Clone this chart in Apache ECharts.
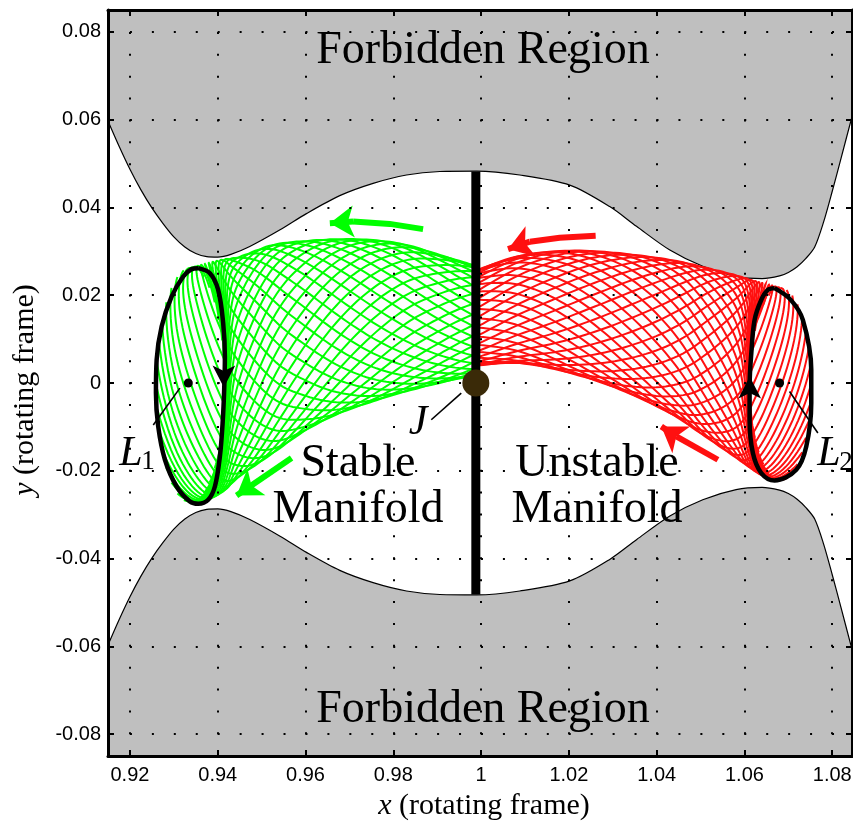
<!DOCTYPE html>
<html><head><meta charset="utf-8">
<script src="https://cdn.jsdelivr.net/npm/echarts@6/dist/echarts.min.js"></script>
<style>html,body{margin:0;padding:0;background:#fff}#c{width:853px;height:828px}</style>
</head><body><div id="c"></div>
<script>
// ---------------- data ----------------
const xTickValues = [0.92, 0.94, 0.96, 0.98, 1.00, 1.02, 1.04, 1.06, 1.08];
const xTickLabels = ['0.92', '0.94', '0.96', '0.98', '1', '1.02', '1.04', '1.06', '1.08'];
const yTickValues = [-0.08, -0.06, -0.04, -0.02, 0, 0.02, 0.04, 0.06, 0.08];
const yTickLabels = ['-0.08', '-0.06', '-0.04', '-0.02', '0', '0.02', '0.04', '0.06', '0.08'];

// boundary of the forbidden (gray) regions
const forbiddenX = [0.915, 0.9175, 0.9200, 0.9225, 0.9250, 0.9275, 0.9300, 0.9325, 0.9350, 0.9375, 0.9400, 0.9430, 0.9473, 0.9542, 0.9602, 0.9678, 0.9754, 0.9830, 0.9906, 0.9990, 1.0088, 1.0202, 1.0293, 1.0354, 1.0430, 1.0505, 1.0581, 1.0640, 1.0680, 1.0700, 1.0720, 1.0740, 1.0760, 1.0780, 1.0800, 1.0820, 1.0845];
const forbiddenUpperY = [0.0597, 0.0540, 0.0487, 0.0440, 0.0399, 0.0364, 0.0333, 0.0310, 0.0295, 0.0288, 0.0287, 0.0293, 0.0311, 0.0349, 0.0386, 0.0427, 0.0455, 0.0474, 0.0482, 0.0483, 0.0474, 0.0451, 0.0402, 0.0357, 0.0303, 0.0266, 0.0243, 0.0238, 0.0244, 0.0252, 0.0265, 0.0284, 0.0310, 0.0366, 0.0437, 0.0512, 0.0607];
const forbiddenLowerY = [-0.0597, -0.0540, -0.0487, -0.0440, -0.0399, -0.0364, -0.0333, -0.0310, -0.0295, -0.0288, -0.0287, -0.0293, -0.0311, -0.0349, -0.0386, -0.0427, -0.0455, -0.0474, -0.0482, -0.0483, -0.0474, -0.0451, -0.0402, -0.0357, -0.0303, -0.0266, -0.0243, -0.0238, -0.0244, -0.0252, -0.0265, -0.0284, -0.0310, -0.0366, -0.0437, -0.0512, -0.0607];

// Lyapunov orbits
const L1Orbit = [[0.93555,0.02617],[0.93821,0.02503],[0.94010,0.02123],[0.94124,0.01364],[0.94163,0.00604],[0.94147,-0.00155],[0.94111,-0.00913],[0.94049,-0.01674],[0.93935,-0.02358],[0.93783,-0.02661],[0.93555,-0.02752],[0.93366,-0.02699],[0.93063,-0.02358],[0.92797,-0.01749],[0.92644,-0.00991],[0.92592,-0.00230],[0.92608,0.00528],[0.92722,0.01287],[0.92949,0.01970],[0.93214,0.02426],[0.93405,0.02595],[0.93555,0.02617]];
const L2Orbit = [[1.06686,0.02162],[1.07050,0.01900],[1.07330,0.01440],[1.07522,0.00301],[1.07522,-0.00458],[1.07408,-0.01446],[1.07180,-0.01977],[1.06686,-0.02221],[1.06383,-0.02052],[1.06192,-0.01597],[1.06117,-0.00838],[1.06117,-0.00080],[1.06156,0.00681],[1.06231,0.01440],[1.06383,0.01895],[1.06533,0.02123],[1.06686,0.02162]];
const L1Point = [0.9333, 0.0];
const L2Point = [1.0680, 0.0];
const JPoint = [0.9988, 0.0];
const sectionLine = [[0.9988, 0.0482], [0.9988, -0.0482]];

// manifold tubes: stations from the orbit to the section x = 1 - mu
const greenStationX   = [0.9338, 0.9360, 0.9385, 0.9415, 0.9450, 0.9526, 0.9602, 0.9678, 0.9754, 0.9830, 0.9906, 0.9985];
const greenTopY       = [0.0262, 0.0268, 0.0275, 0.0282, 0.0288, 0.0315, 0.0324, 0.0328, 0.0326, 0.0315, 0.0292, 0.0268];
const greenBottomY    = [-0.0272, -0.0268, -0.0262, -0.0245, -0.0213, -0.0160, -0.0107, -0.0069, -0.0042, -0.0019, 0.0000, 0.0018];
const greenHalfWidth  = [0.0078, 0.0060, 0.0038, 0.0015, 0.0004, 0, 0, 0, 0, 0, 0, 0];
const greenTwist      = [0.0, 0.7, 1.3, 1.9, 2.3, 2.85, 3.25, 3.62, 3.95, 4.25, 4.53, 4.83];

const redStationX     = [1.0682, 1.0662, 1.0640, 1.0615, 1.0580, 1.0500, 1.0430, 1.0316, 1.0202, 1.0088, 0.9992];
const redTopY         = [0.0216, 0.0222, 0.0228, 0.0235, 0.0246, 0.0266, 0.0281, 0.0296, 0.0302, 0.0290, 0.0258];
const redBottomY      = [-0.0222, -0.0218, -0.0210, -0.0195, -0.0170, -0.0115, -0.0069, -0.0015, 0.0023, 0.0045, 0.0040];
const redHalfWidth    = [0.0070, 0.0052, 0.0032, 0.0012, 0.0002, 0, 0, 0, 0, 0, 0];
const redTwist        = [0.0, 0.6, 1.2, 1.8, 2.3, 2.85, 3.25, 3.75, 4.2, 4.6, 4.9];
const strandCount = 32;

// flow-direction arrows (shaft points, last point = tip)
const greenArrows = [
  [[0.98678,0.03506],[0.97920,0.03626],[0.97084,0.03679],[0.96554,0.03642]],
  [[0.95682,-0.01711],[0.94732,-0.02358],[0.94429,-0.02563]]
];
const redArrows = [
  [[1.02610,0.03353],[1.01790,0.03310],[1.01110,0.03220],[1.00614,0.03050]],
  [[1.05395,-0.01749],[1.04447,-0.01219],[1.04106,-0.00991]]
];
const orbitArrowDown = [[0.9414, -0.0010]];
const orbitArrowUp = [[1.0612, 0.0015]];
const leaderLines = [
  [[0.93138,-0.00117],[0.92531,-0.00957]],
  [[1.07027,-0.00193],[1.07672,-0.01141]],
  [[0.99548,-0.00230],[0.98865,-0.00838]]
];

// ---------------- build tube strands ----------------
function cr(arr, t) {
  const n = arr.length;
  const i = Math.min(Math.floor(t), n - 2), f = t - i;
  const p0 = arr[Math.max(i - 1, 0)], p1 = arr[i], p2 = arr[i + 1], p3 = arr[Math.min(i + 2, n - 1)];
  return 0.5 * ((2 * p1) + (-p0 + p2) * f + (2 * p0 - 5 * p1 + 4 * p2 - p3) * f * f + (-p0 + 3 * p1 - 3 * p2 + p3) * f * f * f);
}
function buildTube(sx, top, bot, hw, tw, mirror) {
  const out = [];
  const n = sx.length, sub = 10;
  for (let k = 0; k < strandCount; k++) {
    const th = 2 * Math.PI * k / strandCount;
    const coords = [];
    for (let j = 0; j <= (n - 1) * sub; j++) {
      const t = j / sub;
      const cx = cr(sx, t), tp = cr(top, t), bt = cr(bot, t), ax = Math.max(cr(hw, t), 0), ph = cr(tw, t);
      const cy = (tp + bt) / 2, ay = (tp - bt) / 2;
      coords.push([cx + (mirror ? -1 : 1) * ax * Math.cos(th + ph), cy + ay * Math.sin(th + ph)]);
    }
    out.push({ coords });
  }
  return out;
}
const greenTube = buildTube(greenStationX, greenTopY, greenBottomY, greenHalfWidth, greenTwist, false);
const redTube = buildTube(redStationX, redTopY, redBottomY, redHalfWidth, redTwist, true);

const zip = (xs, ys) => xs.map((x, i) => [x, ys[i]]);
function tickFmt(vals, labels) {
  return v => { for (let i = 0; i < vals.length; i++) if (Math.abs(v - vals[i]) < 1e-9) return labels[i]; return ''; };
}
const shafts = arr => arr.map(c => ({ coords: c.slice(0, c.length - 1) }));
const heads = arr => arr.map(c => ({ coords: [c[c.length - 2], c[c.length - 1]] }));

const chart = echarts.init(document.getElementById('c'), null, { renderer: 'canvas' });
const axisCommon = {
  type: 'value', z: 10,
  axisLine: { show: true, onZero: false, lineStyle: { color: '#000', width: 3 } },
  axisTick: { show: true, inside: true, length: 6, lineStyle: { color: '#000', width: 2 } },
  splitNumber: 8
};
const serif = '"Liberation Serif", "Times New Roman", serif';
const sans = '"Liberation Sans", Arial, Helvetica, sans-serif';
const textEl = (x, y, text, size, italic) => ({ type: 'text', x, y, z: 100, silent: true,
  style: { text, fontFamily: serif, fontSize: size, fontStyle: italic ? 'italic' : 'normal', fill: '#000', align: 'center', verticalAlign: 'middle' } });

chart.setOption({
  animation: false,
  backgroundColor: '#fff',
  grid: { left: 108, right: 1, top: 10, bottom: 72, containLabel: false, outerBoundsMode: 'none' },
  xAxis: [
    Object.assign({}, axisCommon, {
      position: 'bottom', min: 0.915, max: 1.0845,
      axisLabel: { show: true, margin: 9, color: '#000', fontSize: 20, fontFamily: sans, formatter: tickFmt(xTickValues, xTickLabels) },
      splitLine: { show: true, lineStyle: { color: '#000', width: 2, type: [2, 19.89] } },
      name: '{i|x} (rotating frame)', nameLocation: 'middle', nameGap: 35, nameMoveOverlap: false,
      nameTextStyle: { color: '#000', fontFamily: serif, fontSize: 30, padding: [0, 0, 0, 8], rich: { i: { fontStyle: 'italic', fontFamily: serif, fontSize: 30, color: '#000' } } }
    }),
    Object.assign({}, axisCommon, {
      position: 'top', min: 0.915, max: 1.0845,
      axisLabel: { show: false }, splitLine: { show: false }
    })
  ],
  yAxis: [
    Object.assign({}, axisCommon, {
      position: 'left', min: -0.085, max: 0.085,
      axisLabel: { show: true, margin: 7, color: '#000', fontSize: 20, fontFamily: sans, formatter: tickFmt(yTickValues, yTickLabels) },
      splitLine: { show: true, lineStyle: { color: '#000', width: 2, type: [2, 19.94] } },
      name: '{i|y} (rotating frame)', nameLocation: 'middle', nameGap: 68, nameRotate: 90, nameMoveOverlap: false,
      nameTextStyle: { color: '#000', fontFamily: serif, fontSize: 30, padding: [0, 14, 0, 0], rich: { i: { fontStyle: 'italic', fontFamily: serif, fontSize: 30, color: '#000' } } }
    }),
    Object.assign({}, axisCommon, {
      position: 'right', min: -0.085, max: 0.085,
      axisLabel: { show: false }, splitLine: { show: false }
    })
  ],
  series: [
    { type: 'line', data: zip(forbiddenX, forbiddenUpperY), symbol: 'none', smooth: 0.3, z: 1,
      lineStyle: { color: '#000', width: 1.2 }, areaStyle: { color: '#bfbfbf', opacity: 1, origin: 'end' } },
    { type: 'line', data: zip(forbiddenX, forbiddenLowerY), symbol: 'none', smooth: 0.3, z: 1,
      lineStyle: { color: '#000', width: 1.2 }, areaStyle: { color: '#bfbfbf', opacity: 1, origin: 'start' } },
    { type: 'lines', coordinateSystem: 'cartesian2d', polyline: true, data: greenTube, z: 3, silent: true,
      lineStyle: { color: '#00ff00', width: 2, opacity: 1 } },
    { type: 'lines', coordinateSystem: 'cartesian2d', polyline: true, data: redTube, z: 3, silent: true,
      lineStyle: { color: '#ff1010', width: 2, opacity: 1 } },
    { type: 'line', data: sectionLine, symbol: 'none', z: 5, lineStyle: { color: '#000', width: 9 } },
    { type: 'line', data: L1Orbit, symbol: 'none', smooth: 0.35, z: 6, lineStyle: { color: '#000', width: 4.5 } },
    { type: 'line', data: L2Orbit, symbol: 'none', smooth: 0.35, z: 6, lineStyle: { color: '#000', width: 4.5 } },
    { type: 'lines', coordinateSystem: 'cartesian2d', polyline: true, z: 6, data: shafts(greenArrows),
      lineStyle: { color: '#00ff00', width: 6, opacity: 1 } },
    { type: 'lines', coordinateSystem: 'cartesian2d', polyline: false, z: 6, data: heads(greenArrows),
      symbol: ['none', 'arrow'], symbolSize: 24, lineStyle: { color: '#00ff00', width: 6, opacity: 1 } },
    { type: 'lines', coordinateSystem: 'cartesian2d', polyline: true, z: 6, data: shafts(redArrows),
      lineStyle: { color: '#ff1010', width: 6, opacity: 1 } },
    { type: 'lines', coordinateSystem: 'cartesian2d', polyline: false, z: 6, data: heads(redArrows),
      symbol: ['none', 'arrow'], symbolSize: 24, lineStyle: { color: '#ff1010', width: 6, opacity: 1 } },
    { type: 'scatter', data: orbitArrowDown, symbol: 'arrow', symbolSize: [17, 22], symbolRotate: 180, z: 7, itemStyle: { color: '#000', opacity: 1 } },
    { type: 'scatter', data: orbitArrowUp, symbol: 'arrow', symbolSize: [17, 22], symbolRotate: 0, z: 7, itemStyle: { color: '#000', opacity: 1 } },
    { type: 'lines', coordinateSystem: 'cartesian2d', polyline: false, z: 7,
      data: leaderLines.map(c => ({ coords: c })), lineStyle: { color: '#000', width: 1.6, opacity: 1 } },
    { type: 'scatter', data: [L1Point, L2Point], symbol: 'circle', symbolSize: 9, z: 8, itemStyle: { color: '#000', opacity: 1 } },
    { type: 'scatter', data: [JPoint], symbol: 'circle', symbolSize: 27, z: 12, itemStyle: { color: '#3a2a08', opacity: 1 } }
  ],
  graphic: [
    textEl(483, 51, 'Forbidden Region', 46),
    textEl(483, 710, 'Forbidden Region', 46),
    textEl(358, 464, 'Stable', 46),
    textEl(358, 510, 'Manifold', 46),
    textEl(597, 464, 'Unstable', 46),
    textEl(597, 510, 'Manifold', 46),
    textEl(131, 454, 'L', 42, true),
    textEl(148, 462, '1', 27),
    textEl(829, 454, 'L', 42, true),
    textEl(846, 463, '2', 27),
    textEl(418, 423, 'J', 42, true)
  ]
});
</script></body></html>
